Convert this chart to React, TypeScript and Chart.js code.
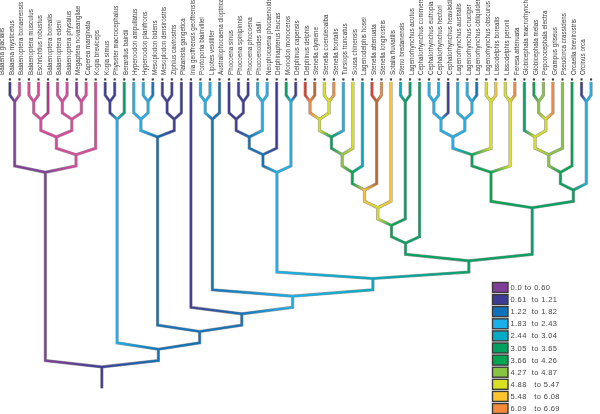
import React, { useEffect, useRef } from "react";
import { Chart, registerables } from "chart.js";
Chart.register(...registerables);

const tipNames = [
  "Balaena glacialis", "Balaena mysticetus", "Balaenoptera bonaerensis", "Balaenoptera musculus",
  "Eschrichtius robustus", "Balaenoptera borealis", "Balaenoptera edeni", "Balaenoptera physalus",
  "Megaptera novaeangliae", "Caperea marginata", "Kogia breviceps", "Kogia simus",
  "Physeter macrocephalus", "Berardius bairdii", "Hyperoodon ampullatus", "Hyperoodon planifrons",
  "Mesoplodon bidens", "Mesoplodon densirostris", "Ziphius cavirostris", "Platanista gangetica",
  "Inia geoffrensis geoffrensis", "Pontoporia blainvillei", "Lipotes vexillifer", "Australophocaena dioptrica",
  "Phocoena sinus", "Phocoena spinipinnis", "Phocoena phocoena", "Phocoenoides dalli",
  "Neophocaena phocaenoides", "Delphinapterus leucas", "Monodon monoceros", "Delphinus capensis",
  "Delphinus delphis", "Stenella clymene", "Stenella coeruleoalba", "Stenella frontalis",
  "Tursiops truncatus", "Sousa chinensis", "Lagenodelphis hosei", "Stenella attenuata",
  "Stenella longirostris", "Sotalia fluviatilis", "Steno bredanensis", "Lagenorhynchus acutus",
  "Cephalorhynchus commersonii", "Cephalorhynchus eutropia", "Cephalorhynchus hectori", "Cephalorhynchus heavisidii",
  "Lagenorhynchus australis", "Lagenorhynchus cruciger", "Lagenorhynchus obliquidens", "Lagenorhynchus obscurus",
  "Lissodelphis borealis", "Lissodelphis peronii", "Feresa attenuata", "Globicephala macrorhynchus",
  "Globicephala melas", "Peponocephala electra", "Grampus griseus", "Pseudorca crassidens",
  "Orcaella brevirostris", "Orcinus orca",
];

// colour class of each tip (legend bin 0-9, "a" = bin 10, letters = extra colours)
const tipBins = [
  "1", "P", "P", "P", "M", "P", "P", "0", "P", "P",
  "1", "1", "5", "3", "3", "2", "1", "1", "1", "1",
  "3", "3", "2", "1", "1", "1", "3", "3", "1", "5",
  "1", "R", "B", "8", "a", "3", "8", "4", "R", "a",
  "9", "4", "5", "5", "3", "3", "1", "3", "3", "2",
  "8", "9", "8", "a", "5", "6", "7", "a", "7", "6",
  "1", "3",
];

const binLabels = [
  "0.0 to 0.60", "0.61  to 1.21", "1.22  to 1.82", "1.83  to 2.43", "2.44  to 3.04", "3.05  to 3.65",
  "3.66  to 4.26", "4.27  to 4.87", "4.88   to 5.47", "5.48   to 6.08", "6.09   to 6.69",
];
const binColors = [
  "#7f3f98", "#3d3d96", "#0f72ba", "#1ab0ec", "#00abc3", "#00a261",
  "#00a651", "#87c441", "#d9e021", "#fcc42d", "#f2893b",
];
const extraColors: Record<string, string> = { P: "#dc479c", M: "#b4378c", R: "#e8392a", B: "#b8692e" };

// clades (tip indices, internal node colour class after each ")")
const mysticeti = "((0,1)0,((((2,3)P,4)P,((5,6)P,(7,8)P)P)P,9)P)0";
const physeteroidea = "((10,11)1,12)3";
const ziphiidae = "((13,(14,15)3)3,((16,17)1,18)1)2";
const iniidae = "((20,21)3,22)2";
const delphinoidea = "((((23,(24,25)1)1,(26,27)3)2,28)2,(29,30)3)3";
const delphLeft = "(((((((((31,32)a,(33,34)8)8,35)5,36)7,37)6,(38,39)B)9,40)8,(41,42)5)6,43)5";
const delphRight1 = "(((((44,45)3,46)3,(47,(48,49)3)3)3,(50,51)8)6,(52,53)8)6";
const delphRight2 = "((((54,((55,56)7,57)8)8,58)7,59)6,(60,61)3)5";
const treeNewick =
  `(${mysticeti},(${physeteroidea},(${ziphiidae},(19,(${iniidae},(${delphinoidea},(${delphLeft},(${delphRight1},${delphRight2})5)5)4)3)2)2)2)1`;

const LEVEL_STEP = 17.9;
const TIP_Y = -2;
const DROP = 6.5;
const ROOT_STUB = 21.5;

type TNode = { tip: number; key: string; children: TNode[]; x: number; level: number; y: number };

function colorOf(key: string): string {
  if (/^[0-9]$/.test(key)) return binColors[Number(key)];
  if (key === "a") return binColors[10];
  return extraColors[key] || "#888";
}

function parseTree(s: string): TNode {
  let i = 0;
  const token = () => {
    let t = "";
    while (i < s.length && /[0-9A-Za-z]/.test(s[i])) t += s[i++];
    return t;
  };
  const node = (): TNode => {
    if (s[i] === "(") {
      i++;
      const children = [node()];
      while (s[i] === ",") {
        i++;
        children.push(node());
      }
      i++;
      const key = token();
      return { tip: -1, key, children, x: 0, level: 0, y: 0 };
    }
    const idx = parseInt(token(), 10);
    return { tip: idx, key: tipBins[idx], children: [], x: idx, level: 0, y: TIP_Y };
  };
  return node();
}

function layout(n: TNode) {
  if (n.tip >= 0) return;
  n.children.forEach(layout);
  n.x = n.children.reduce((a, c) => a + c.x, 0) / n.children.length;
  n.level = 1 + Math.max(...n.children.map((c) => c.level));
  n.y = n.level * LEVEL_STEP;
}

function buildDatasets() {
  const root = parseTree(treeNewick);
  layout(root);
  const branches: any[] = [];
  const walk = (p: TNode) => {
    p.children.forEach((c) => {
      branches.push({
        pts: [
          { x: c.x, y: c.y },
          { x: c.x, y: p.y - DROP },
          { x: p.x, y: p.y },
        ],
        c0: colorOf(c.key),
        c1: colorOf(p.key),
      });
      walk(c);
    });
  };
  walk(root);
  branches.push({
    pts: [
      { x: root.x, y: root.y },
      { x: root.x, y: root.y + ROOT_STUB / 2 },
      { x: root.x, y: root.y + ROOT_STUB },
    ],
    c0: colorOf(root.key),
    c1: colorOf(root.key),
  });

  const gradient = (ctx: any) => {
    const ds = ctx.dataset;
    const chart = ctx.chart;
    if (!chart.chartArea) return ds.c0;
    const xs = chart.scales.x;
    const ys = chart.scales.y;
    const a = ds.data[1];
    const b = ds.data[2];
    const x0 = xs.getPixelForValue(a.x);
    const y0 = ys.getPixelForValue(a.y);
    const x1 = xs.getPixelForValue(b.x);
    const y1 = ys.getPixelForValue(b.y);
    if (Math.abs(x1 - x0) + Math.abs(y1 - y0) < 0.1) return ds.c0;
    const g = chart.ctx.createLinearGradient(x0, y0, x1, y1);
    g.addColorStop(0, ds.c0);
    g.addColorStop(1, ds.c1);
    return g;
  };

  const colored = branches.map((b) => ({
    data: b.pts,
    c0: b.c0,
    c1: b.c1,
    showLine: true,
    borderColor: gradient,
    borderWidth: 2,
    pointRadius: 0,
    order: 1,
  }));
  const outlines = branches.map((b) => ({
    data: b.pts,
    showLine: true,
    borderColor: "#9a9a9a",
    borderWidth: 3.2,
    pointRadius: 0,
    order: 2,
  }));
  const markers = {
    data: tipNames.map((_, i) => ({ x: i, y: -4.5 })),
    showLine: false,
    pointStyle: "rect",
    pointRadius: 1.5,
    backgroundColor: "#3a3a3a",
    borderWidth: 0,
    order: 0,
  };
  return [markers, ...colored, ...outlines];
}

const legendPlugin = {
  id: "binLegend",
  afterDraw(chart: any) {
    const ctx = chart.ctx;
    ctx.save();
    binLabels.forEach((label, i) => {
      const top = 282.5 + i * 12.1;
      ctx.fillStyle = binColors[i];
      ctx.fillRect(492.5, top, 15.5, 10);
      ctx.strokeStyle = "#3a3a3a";
      ctx.lineWidth = 1.4;
      ctx.strokeRect(492.5, top, 15.5, 10);
      ctx.fillStyle = "#444";
      ctx.font = "7.5px 'Liberation Sans'";
      ctx.textBaseline = "middle";
      ctx.textAlign = "left";
      try {
        ctx.letterSpacing = "0.4px";
      } catch (e) {}
      ctx.fillText(label, 510.5, top + 5.5);
    });
    ctx.restore();
  },
};

export default function App() {
  const ref = useRef<HTMLCanvasElement>(null);
  useEffect(() => {
    if (!ref.current) return;
    const chart = new Chart(ref.current, {
      type: "scatter",
      data: { datasets: buildDatasets() as any },
      options: {
        animation: false,
        responsive: false,
        devicePixelRatio: 1,
        events: [],
        layout: { padding: 0 },
        plugins: { legend: { display: false }, tooltip: { enabled: false } },
        scales: {
          x: {
            type: "linear",
            position: "top",
            min: -0.62,
            max: 61.52,
            grid: { display: false, drawTicks: false },
            border: { display: false },
            afterBuildTicks: (axis: any) => {
              axis.ticks = tipNames.map((_, i) => ({ value: i }));
            },
            afterFit: (axis: any) => {
              axis.height = 76;
            },
            ticks: {
              autoSkip: false,
              minRotation: 90,
              maxRotation: 90,
              padding: 1,
              color: "#3a3a3a",
              font: { family: "'Liberation Sans'", size: 6.3 },
              callback: (v: any) => tipNames[Math.round(Number(v))] ?? "",
            },
          },
          y: { type: "linear", reverse: true, min: -8, max: 330, display: false },
        },
      } as any,
      plugins: [legendPlugin],
    });
    return () => chart.destroy();
  }, []);
  return (
    <div style={{ position: "absolute", left: 0, top: 0, width: 600, height: 414, background: "#fff" }}>
      <canvas ref={ref} width={600} height={414} />
    </div>
  );
}
